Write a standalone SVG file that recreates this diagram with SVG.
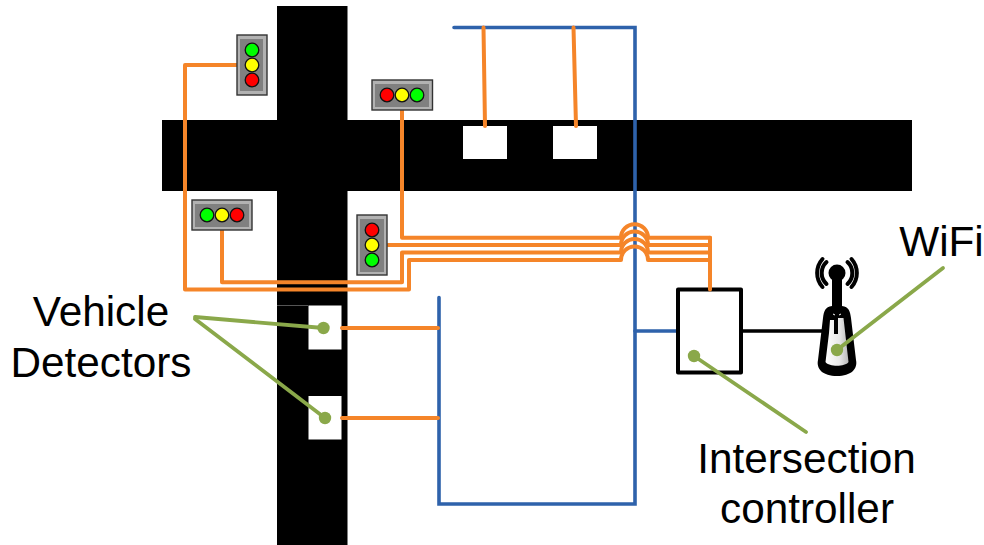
<svg xmlns="http://www.w3.org/2000/svg" width="984" height="545" viewBox="0 0 984 545">
<defs>
<linearGradient id="g" x1="0" x2="1" y1="0" y2="0"><stop offset="0" stop-color="#ffffff"/><stop offset="0.6" stop-color="#e8e8e8"/><stop offset="1" stop-color="#b8b8b8"/></linearGradient>
<circle id="l" r="6.8"/>
</defs>
<style>
.tlo{fill:#b2b2b2;stroke:#333;stroke-width:1.4}
.tli{fill:#808080}
.r{fill:#ff0000;stroke:#111;stroke-width:1.3}
.y{fill:#ffff00;stroke:#111;stroke-width:1.3}
.g{fill:#00ff00;stroke:#111;stroke-width:1.3}
.or{fill:none;stroke:#f58529;stroke-width:4;stroke-linejoin:round;stroke-linecap:round}
.bl{fill:none;stroke:#2e62ab;stroke-width:3.6;stroke-linecap:round}
.gn{fill:none;stroke:#8aa84a;stroke-width:3.8;stroke-linecap:round}
.gd{fill:#8aa84a}
.box{fill:#fff}
text{font-family:"Liberation Sans",Arial,sans-serif;font-size:42.3px;fill:#000;text-anchor:middle}
</style>
<g id="roads">
<rect x="162" y="120" width="750" height="71" fill="#000"/>
<rect x="277" y="6" width="70.500" height="539" fill="#000"/>
<line x1="277" y1="305.500" x2="308" y2="305.500" stroke="#555" stroke-width="1"/>
</g>
<g id="sensor-1"><rect class="box" x="463" y="126" width="44" height="33"/></g>
<g id="sensor-2"><rect class="box" x="553" y="126" width="44" height="33"/></g>
<g id="detector-1"><rect class="box" x="308.500" y="305.500" width="33" height="44"/></g>
<g id="detector-2"><rect class="box" x="308.500" y="396" width="33" height="43.500"/></g>
<g id="connectors">
<path class="bl" d="M454,27.500H635V504H439V297.500"/>
<path class="bl" d="M635,331H677"/>
<path class="or" d="M483.500,27.500L485,126"/>
<path class="or" d="M573.500,27.500L576,126"/>
<path class="or" d="M342,328H438"/>
<path class="or" d="M342,418H438"/>
<path class="or" d="M402,110V237.700H621A13.500,13.500 0 0 1 648,237.700H710"/>
<path class="or" d="M388,245H621A13.500,13.500 0 0 1 648,245H710"/>
<path class="or" d="M222,230V282.300H402V252.500H621A13.500,13.500 0 0 1 648,252.500H710"/>
<path class="or" d="M238,65H185V289.500H409V260H621A13.500,13.500 0 0 1 648,260H710"/>
<path class="or" d="M710,237.700V289.500"/>
<path d="M741,331H836V318" fill="none" stroke="#000" stroke-width="3.500"/>
</g>
<g id="light-1">
<rect class="tlo" x="237" y="35" width="30" height="60"/><rect class="tli" x="240" y="39" width="23" height="52"/>
<use href="#l" class="g" x="252" y="50"/><use href="#l" class="y" x="252" y="65"/><use href="#l" class="r" x="252" y="80"/>
</g>
<g id="light-2">
<rect class="tlo" x="372" y="80" width="60.500" height="30"/><rect class="tli" x="375" y="84" width="54" height="23"/>
<use href="#l" class="r" x="387" y="95"/><use href="#l" class="y" x="402" y="95"/><use href="#l" class="g" x="417" y="95"/>
</g>
<g id="light-3">
<rect class="tlo" x="192" y="200" width="60" height="30"/><rect class="tli" x="195" y="204" width="54" height="23"/>
<use href="#l" class="g" x="207" y="215"/><use href="#l" class="y" x="222" y="215"/><use href="#l" class="r" x="237" y="215"/>
</g>
<g id="light-4">
<rect class="tlo" x="357" y="215" width="30" height="60"/><rect class="tli" x="360" y="219" width="24" height="53"/>
<use href="#l" class="r" x="372" y="230"/><use href="#l" class="y" x="372" y="245"/><use href="#l" class="g" x="372" y="260"/>
</g>
<g id="controller">
<rect x="678" y="289.500" width="63" height="83" fill="#fff" stroke="#000" stroke-width="4" stroke-linejoin="round"/>
<path class="or" d="M710,280V289.500"/>
</g>
<g id="wifi-antenna">
<path d="M832,272H842V306C849,307 850,311 851,318L856,360C858,369 851,376 837,376C823,376 816,369 818,360L823,318C824,311 825,307 832,306Z" fill="#000"/>
<path d="M830,320H834V334H838V318H843.500L848.500,362C845,367 829,367 825.500,362L829,333Z" fill="url(#g)"/>
<circle cx="837" cy="273" r="8.500" fill="#000"/>
<g fill="none" stroke="#000" stroke-width="4" stroke-linecap="round">
<path d="M826.500,262A15,15 0 0 0 826.500,284"/>
<path d="M847.500,262A15,15 0 0 1 847.500,284"/>
<path d="M822.500,259A21,21 0 0 0 822.500,287"/>
<path d="M851.500,259A21,21 0 0 1 851.500,287"/>
</g>
<path d="M833,314L835,315M839,315L841,314" stroke="#fff" stroke-width="1"/>
</g>
<g id="callouts">
<path class="gn" d="M195,317L323.500,328"/>
<path class="gn" d="M195,319L325,418"/>
<circle class="gd" cx="323.500" cy="328" r="6.200"/>
<circle class="gd" cx="325" cy="418" r="6.200"/>
<path class="gn" d="M694,356L806,432"/>
<circle class="gd" cx="694" cy="356" r="6.200"/>
<path class="gn" d="M837,350L943,268"/>
<circle class="gd" cx="837" cy="350" r="6.200"/>
</g>
<g id="labels">
<text x="101" y="326">Vehicle</text>
<text x="101" y="377">Detectors</text>
<text x="941.500" y="256">WiFi</text>
<text x="806.500" y="473">Intersection</text>
<text x="807" y="523">controller</text>
</g>
</svg>
